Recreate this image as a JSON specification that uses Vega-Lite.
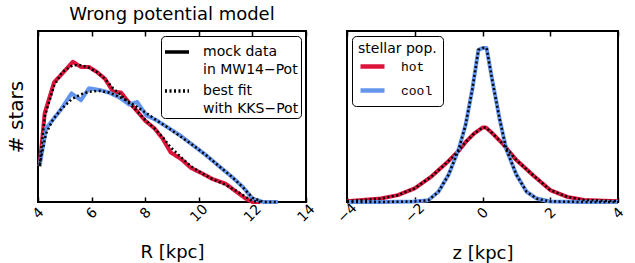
{
  "$schema": "https://vega.github.io/schema/vega-lite/v6.json",
  "background": "white",
  "padding": {"top": 5, "left": 5, "right": 5, "bottom": 1},
  "bounds": "flush",
  "config": {
    "font": "DejaVu Sans",
    "view": {"stroke": "black", "strokeWidth": 2},
    "axis": {"labelFont": "DejaVu Sans", "titleFont": "DejaVu Sans", "labelColor": "black", "titleColor": "black", "titleFontWeight": "normal", "grid": false, "domain": false, "tickColor": "black", "tickWidth": 1.5},
    "concat": {"spacing": 41},
    "title": {"font": "DejaVu Sans", "fontWeight": "normal", "fontSize": 18, "color": "black"},
    "style": {"guide-label": {"lineHeight": 18}}
  },
  "datasets": {
    "radial": [
      {"pop": "hot", "R": 4.06, "mock": 0.21, "fit": 0.21},
      {"pop": "hot", "R": 4.25, "mock": 0.52, "fit": 0.5},
      {"pop": "hot", "R": 4.6, "mock": 0.7, "fit": 0.68},
      {"pop": "hot", "R": 4.9, "mock": 0.75, "fit": 0.76},
      {"pop": "hot", "R": 5.3, "mock": 0.82, "fit": 0.8},
      {"pop": "hot", "R": 5.6, "mock": 0.79, "fit": 0.8},
      {"pop": "hot", "R": 5.9, "mock": 0.79, "fit": 0.785},
      {"pop": "hot", "R": 6.2, "mock": 0.76, "fit": 0.76},
      {"pop": "hot", "R": 6.5, "mock": 0.72, "fit": 0.72},
      {"pop": "hot", "R": 6.8, "mock": 0.645, "fit": 0.665},
      {"pop": "hot", "R": 7.1, "mock": 0.64, "fit": 0.625},
      {"pop": "hot", "R": 7.35, "mock": 0.59, "fit": 0.585},
      {"pop": "hot", "R": 7.65, "mock": 0.54, "fit": 0.54},
      {"pop": "hot", "R": 8.0, "mock": 0.475, "fit": 0.48},
      {"pop": "hot", "R": 8.35, "mock": 0.43, "fit": 0.43},
      {"pop": "hot", "R": 8.65, "mock": 0.37, "fit": 0.38},
      {"pop": "hot", "R": 8.95, "mock": 0.29, "fit": 0.32},
      {"pop": "hot", "R": 9.35, "mock": 0.25, "fit": 0.26},
      {"pop": "hot", "R": 9.7, "mock": 0.2, "fit": 0.21},
      {"pop": "hot", "R": 10.15, "mock": 0.165, "fit": 0.165},
      {"pop": "hot", "R": 10.5, "mock": 0.135, "fit": 0.135},
      {"pop": "hot", "R": 11.0, "mock": 0.107, "fit": 0.1},
      {"pop": "hot", "R": 11.4, "mock": 0.06, "fit": 0.065},
      {"pop": "hot", "R": 11.75, "mock": 0.02, "fit": 0.03},
      {"pop": "hot", "R": 12.0, "mock": 0.0, "fit": 0.005},
      {"pop": "hot", "R": 12.3, "mock": 0.0, "fit": 0.0},
      {"pop": "cool", "R": 4.06, "mock": 0.21, "fit": 0.22},
      {"pop": "cool", "R": 4.3, "mock": 0.43, "fit": 0.4},
      {"pop": "cool", "R": 4.55, "mock": 0.48, "fit": 0.48},
      {"pop": "cool", "R": 4.85, "mock": 0.54, "fit": 0.54},
      {"pop": "cool", "R": 5.25, "mock": 0.635, "fit": 0.6},
      {"pop": "cool", "R": 5.6, "mock": 0.595, "fit": 0.63},
      {"pop": "cool", "R": 5.9, "mock": 0.665, "fit": 0.645},
      {"pop": "cool", "R": 6.3, "mock": 0.655, "fit": 0.65},
      {"pop": "cool", "R": 6.65, "mock": 0.64, "fit": 0.64},
      {"pop": "cool", "R": 7.05, "mock": 0.61, "fit": 0.615},
      {"pop": "cool", "R": 7.4, "mock": 0.57, "fit": 0.585},
      {"pop": "cool", "R": 7.7, "mock": 0.585, "fit": 0.555},
      {"pop": "cool", "R": 8.05, "mock": 0.505, "fit": 0.52},
      {"pop": "cool", "R": 8.4, "mock": 0.48, "fit": 0.48},
      {"pop": "cool", "R": 8.8, "mock": 0.44, "fit": 0.44},
      {"pop": "cool", "R": 9.3, "mock": 0.39, "fit": 0.385},
      {"pop": "cool", "R": 9.8, "mock": 0.33, "fit": 0.33},
      {"pop": "cool", "R": 10.3, "mock": 0.27, "fit": 0.27},
      {"pop": "cool", "R": 10.75, "mock": 0.21, "fit": 0.21},
      {"pop": "cool", "R": 11.25, "mock": 0.145, "fit": 0.145},
      {"pop": "cool", "R": 11.65, "mock": 0.087, "fit": 0.085},
      {"pop": "cool", "R": 12.0, "mock": 0.02, "fit": 0.025},
      {"pop": "cool", "R": 12.4, "mock": 0.0, "fit": 0.0},
      {"pop": "cool", "R": 12.95, "mock": 0.0, "fit": 0.0}
    ],
    "vertical": [
      {"pop": "hot", "z": -4.0, "val": 0.005},
      {"pop": "hot", "z": -3.0, "val": 0.02},
      {"pop": "hot", "z": -2.5, "val": 0.04},
      {"pop": "hot", "z": -2.0, "val": 0.08},
      {"pop": "hot", "z": -1.5, "val": 0.15},
      {"pop": "hot", "z": -1.0, "val": 0.24},
      {"pop": "hot", "z": -0.7, "val": 0.3},
      {"pop": "hot", "z": -0.5, "val": 0.35},
      {"pop": "hot", "z": -0.25, "val": 0.4},
      {"pop": "hot", "z": 0.0, "val": 0.435},
      {"pop": "hot", "z": 0.1, "val": 0.435},
      {"pop": "hot", "z": 0.3, "val": 0.4},
      {"pop": "hot", "z": 0.6, "val": 0.34},
      {"pop": "hot", "z": 1.0, "val": 0.245},
      {"pop": "hot", "z": 1.5, "val": 0.155},
      {"pop": "hot", "z": 2.0, "val": 0.07},
      {"pop": "hot", "z": 2.5, "val": 0.03},
      {"pop": "hot", "z": 3.0, "val": 0.012},
      {"pop": "hot", "z": 4.0, "val": 0.005},
      {"pop": "cool", "z": -4.0, "val": 0.0},
      {"pop": "cool", "z": -3.0, "val": 0.0},
      {"pop": "cool", "z": -2.0, "val": 0.003},
      {"pop": "cool", "z": -1.6, "val": 0.01},
      {"pop": "cool", "z": -1.3, "val": 0.06},
      {"pop": "cool", "z": -1.0, "val": 0.16},
      {"pop": "cool", "z": -0.7, "val": 0.31},
      {"pop": "cool", "z": -0.5, "val": 0.45},
      {"pop": "cool", "z": -0.3, "val": 0.66},
      {"pop": "cool", "z": -0.12, "val": 0.89},
      {"pop": "cool", "z": 0.0, "val": 0.9},
      {"pop": "cool", "z": 0.12, "val": 0.9},
      {"pop": "cool", "z": 0.3, "val": 0.7},
      {"pop": "cool", "z": 0.5, "val": 0.49},
      {"pop": "cool", "z": 0.7, "val": 0.31},
      {"pop": "cool", "z": 1.0, "val": 0.16},
      {"pop": "cool", "z": 1.3, "val": 0.06},
      {"pop": "cool", "z": 1.6, "val": 0.02},
      {"pop": "cool", "z": 2.0, "val": 0.003},
      {"pop": "cool", "z": 3.0, "val": 0.0},
      {"pop": "cool", "z": 4.0, "val": 0.0}
    ]
  },
  "resolve": {"scale": {"color": "independent", "strokeDash": "independent"}, "legend": {"color": "independent", "strokeDash": "independent"}},
  "hconcat": [
    {
      "width": 268,
      "height": 171,
      "title": {"text": "Wrong potential model", "offset": 6},
      "data": {"name": "radial"},
      "layer": [
        {
          "mark": {"type": "line", "strokeWidth": 4, "strokeJoin": "round"},
          "encoding": {
            "x": {"field": "R", "type": "quantitative", "scale": {"domain": [4, 14], "nice": false, "zero": false},
                  "axis": {"orient": "bottom", "title": "R [kpc]", "values": [4, 6, 8, 10, 12, 14], "tickSize": -5, "labelAngle": -45, "labelAlign": "center", "labelBaseline": "middle", "labelPadding": 16, "labelFontSize": 14, "titleFontSize": 18, "titlePadding": 19, "labelFlush": false, "labelOverlap": false}},
            "y": {"field": "mock", "type": "quantitative", "scale": {"domain": [0, 1], "nice": false},
                  "axis": {"title": "# stars", "labels": false, "ticks": false, "titleFontSize": 20, "titlePadding": 12}},
            "color": {"field": "pop", "type": "nominal", "scale": {"domain": ["hot", "cool"], "range": ["#DC143C", "#6495ED"]}, "legend": null},
            "strokeDash": {"datum": "mock data|in MW14−Pot", "type": "nominal",
                  "scale": {"domain": ["mock data|in MW14−Pot", "best fit|with KKS−Pot"], "range": [[1, 0], [2, 2.5]]},
                  "legend": {"orient": "top-right", "offset": 5, "title": null, "labelExpr": "split(datum.label, '|')", "labelFontSize": 14, "labelFont": "DejaVu Sans", "labelColor": "black", "symbolType": "stroke", "symbolSize": 576, "symbolStrokeColor": "black", "symbolStrokeWidth": 3.5, "strokeColor": "black", "fillColor": "white", "cornerRadius": 4, "padding": 2, "rowPadding": -9, "labelOffset": 12}}
          }
        },
        {
          "mark": {"type": "line", "color": "black", "strokeWidth": 2.5},
          "encoding": {
            "x": {"field": "R", "type": "quantitative", "axis": {"orient": "top", "title": null, "labels": false, "values": [4, 6, 8, 10, 12, 14], "tickSize": -5}},
            "y": {"field": "fit", "type": "quantitative", "axis": {"title": "# stars", "labels": false, "ticks": false, "titleFontSize": 20, "titlePadding": 12}},
            "detail": {"field": "pop", "type": "nominal"},
            "strokeDash": {"datum": "best fit|with KKS−Pot", "type": "nominal"}
          }
        }
      ],
      "resolve": {"axis": {"x": "independent"}}
    },
    {
      "width": 271,
      "height": 171,
      "data": {"name": "vertical"},
      "layer": [
        {
          "mark": {"type": "line", "strokeWidth": 4, "strokeJoin": "round"},
          "encoding": {
            "x": {"field": "z", "type": "quantitative", "scale": {"domain": [-4, 4], "nice": false, "zero": false},
                  "axis": {"orient": "bottom", "title": "z [kpc]", "values": [-4, -2, 0, 2, 4], "tickSize": -5, "labelAngle": -45, "labelAlign": "center", "labelBaseline": "middle", "labelPadding": 16, "labelFontSize": 14, "titleFontSize": 18, "titlePadding": 19, "labelFlush": false, "labelOverlap": false}},
            "y": {"field": "val", "type": "quantitative", "scale": {"domain": [0, 1], "nice": false}, "axis": null},
            "color": {"field": "pop", "type": "nominal", "scale": {"domain": ["hot", "cool"], "range": ["#DC143C", "#6495ED"]},
                  "legend": {"orient": "top-left", "offset": 5, "title": "stellar pop.", "titleFontSize": 14, "titleFontWeight": "normal", "titleColor": "black", "titlePadding": -4, "labelFont": "Liberation Mono", "labelFontSize": 13, "labelColor": "black", "symbolType": "stroke", "symbolSize": 576, "symbolStrokeWidth": 4.5, "strokeColor": "black", "fillColor": "white", "cornerRadius": 4, "padding": 6, "rowPadding": -8, "labelOffset": 14}}
          }
        },
        {
          "mark": {"type": "line", "color": "black", "strokeWidth": 2.5, "strokeDash": [2, 2.5]},
          "encoding": {
            "x": {"field": "z", "type": "quantitative", "axis": {"orient": "top", "title": null, "labels": false, "values": [-4, -2, 0, 2, 4], "tickSize": -5}},
            "y": {"field": "val", "type": "quantitative", "axis": null},
            "detail": {"field": "pop", "type": "nominal"}
          }
        }
      ],
      "resolve": {"axis": {"x": "independent"}}
    }
  ]
}
